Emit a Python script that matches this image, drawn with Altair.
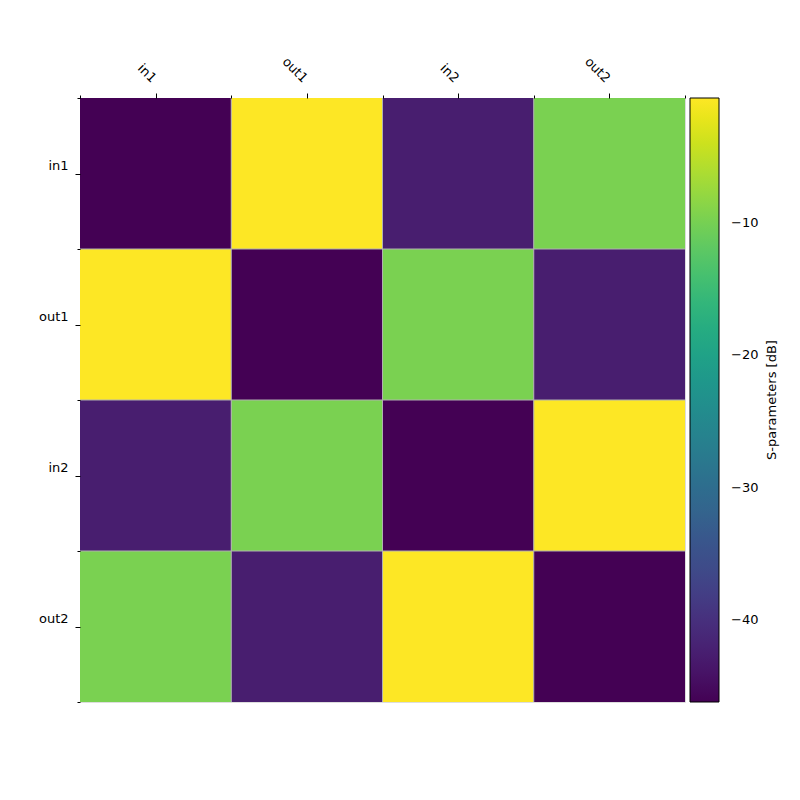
import json
import altair as alt
import pandas as pd

ports = ["in1", "out1", "in2", "out2"]
# S-parameter magnitude in dB, rows = output port, cols = input port
s_db = [
    [-46.2, -0.57, -42.6, -9.7],
    [-0.57, -46.2, -9.7, -42.6],
    [-42.6, -9.7, -46.2, -0.57],
    [-9.7, -42.6, -0.57, -46.2],
]
colorbar_ticks = [-40, -30, -20, -10]
cell_edges = [1, 2, 3]

rows = []
for i, r in enumerate(ports):
    for j, c in enumerate(ports):
        rows.append({"row": i, "col": j, "rname": r, "cname": c, "val": s_db[i][j]})
df = pd.DataFrame(rows)
edges = pd.DataFrame({"e": cell_edges})

vmin = min(min(r) for r in s_db)
vmax = max(max(r) for r in s_db)

FONT = "DejaVu Sans"
tick_values = [k / 2 for k in range(0, 2 * len(ports) + 1)]
names_js = json.dumps(ports)
label_expr = f"(datum.value % 1) == 0.5 ? {names_js}[floor(datum.value)] : ''"
tick_size = {"condition": {"test": "(datum.value % 1) == 0", "value": 3}, "value": 5}

xscale = alt.Scale(domain=[0, 4], nice=False, zero=False)
yscale = alt.Scale(domain=[0, 4], nice=False, zero=False, reverse=True)

xaxis = alt.Axis(orient="top", values=tick_values, labelExpr=label_expr, tickSize=tick_size,
                 labelAngle=45, labelAlign="right", labelBaseline="middle", labelPadding=13,
                 labelOffset=-2,
                 domain=False, grid=False, title=None, tickColor="black", labelColor="black",
                 labelFont=FONT, labelFontSize=13, zindex=1)
yaxis = alt.Axis(orient="left", values=tick_values, labelExpr=label_expr, tickSize=tick_size,
                 labelAngle=0, labelPadding=7, labelOffset=-8, domain=False, grid=False, title=None,
                 tickColor="black", labelColor="black", labelFont=FONT, labelFontSize=13, zindex=1)

heat = alt.Chart(df).transform_calculate(
    col2="datum.col + 1", row2="datum.row + 1"
).mark_rect().encode(
    x=alt.X("col:Q", scale=xscale, axis=xaxis),
    x2="col2:Q",
    y=alt.Y("row:Q", scale=yscale, axis=yaxis),
    y2="row2:Q",
    color=alt.Color(
        "val:Q",
        scale=alt.Scale(scheme="viridis", domain=[vmin, vmax], zero=False, nice=False),
        legend=alt.Legend(
            orient="right", offset=5, values=colorbar_ticks,
            gradientLength=604, gradientThickness=29,
            gradientStrokeColor="black", gradientStrokeWidth=1,
            labelFont=FONT, labelFontSize=13, labelColor="black", labelOffset=12,
            title=None,
        ),
    ),
)

vrules = alt.Chart(edges).mark_rule(color="#b0b0b0", strokeWidth=1).encode(
    x=alt.X("e:Q", scale=xscale), y=alt.value(0), y2=alt.value(604)
)
hrules = alt.Chart(edges).mark_rule(color="#b0b0b0", strokeWidth=1).encode(
    y=alt.Y("e:Q", scale=yscale), x=alt.value(0), x2=alt.value(605)
)

chart = alt.layer(heat, vrules, hrules).properties(
    width=605, height=604,
    title=alt.TitleParams(
        text="S-parameters [dB]", orient="right", angle=270, frame="group",
        anchor="middle", offset=0, font=FONT, fontSize=13, fontWeight="normal",
        color="black", baseline="middle",
    ),
    autosize=alt.AutoSizeParams(type="none"),
    padding={"left": 72, "top": 90, "right": 100, "bottom": 90},
).configure_view(stroke="black", strokeWidth=1).configure(background="white")

chart.save("out.html", embed_options={"renderer": "svg", "actions": False})
